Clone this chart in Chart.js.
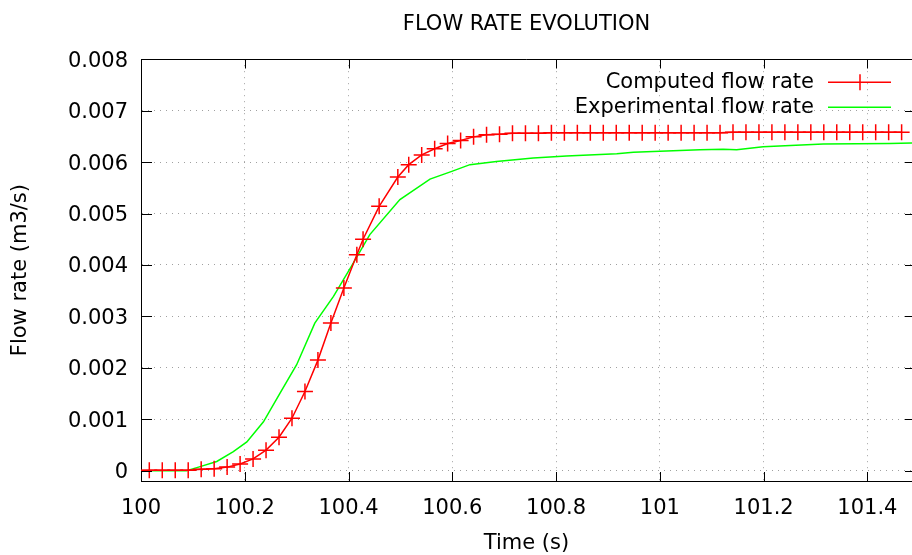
<!DOCTYPE html>
<html>
<head>
<meta charset="utf-8">
<title>Flow rate evolution</title>
<script src="https://cdn.jsdelivr.net/npm/chart.js@4.4.1/dist/chart.umd.min.js"></script>
<style>
  html, body { margin: 0; padding: 0; background: #fff; }
  #wrap { width: 912px; height: 555px; }
</style>
</head>
<body>
<div id="wrap"><canvas id="flow"></canvas></div>
<script>
// values
const computedTime = [
  99.991, 100.016, 100.041, 100.066, 100.091, 100.116, 100.141, 100.166, 100.191,
  100.216, 100.241, 100.266, 100.291, 100.316, 100.341, 100.366, 100.391, 100.416,
  100.428, 100.459, 100.495, 100.516, 100.541, 100.566, 100.591, 100.616, 100.641,
  100.666, 100.691, 100.716, 100.741, 100.766, 100.791, 100.816, 100.841, 100.866,
  100.891, 100.916, 100.941, 100.966, 100.991, 101.016, 101.041, 101.066, 101.091,
  101.116, 101.141, 101.166, 101.191, 101.216, 101.241, 101.266, 101.291, 101.316,
  101.341, 101.366, 101.391, 101.416, 101.441, 101.466
];
const computedFlow = [
  0, 0.00001, 0.00001, 0.00001, 0.00001, 0.00003, 0.00004, 0.00007, 0.00013,
  0.00023, 0.00040, 0.00065, 0.00102, 0.00154, 0.00215, 0.00287, 0.00355, 0.00420,
  0.00450, 0.00514, 0.00571, 0.00595, 0.00614, 0.00626, 0.00636, 0.00642, 0.00649,
  0.00653, 0.00654, 0.00656, 0.00656, 0.00656, 0.00657, 0.00657, 0.00657, 0.00657,
  0.00657, 0.00657, 0.00657, 0.00657, 0.00657, 0.00657, 0.00657, 0.00657, 0.00657,
  0.00657, 0.00658, 0.00658, 0.00658, 0.00658, 0.00658, 0.00658, 0.00658, 0.00658,
  0.00658, 0.00658, 0.00658, 0.00658, 0.00658, 0.00658
];
const experimentalTime = [
  100.000, 100.088, 100.114, 100.146, 100.178, 100.204, 100.236, 100.268, 100.300,
  100.335, 100.371, 100.406, 100.441, 100.499, 100.557, 100.599, 100.634, 100.685,
  100.756, 100.820, 100.917, 100.949, 101.077, 101.122, 101.148, 101.199, 101.315,
  101.443, 101.486
];
const experimentalFlow = [
  0, 0, 0.00008, 0.00018, 0.00037, 0.00056, 0.00095, 0.00151, 0.00206,
  0.00287, 0.00339, 0.00398, 0.00459, 0.00527, 0.00567, 0.00582, 0.00595, 0.00601,
  0.00608, 0.00612, 0.00616, 0.00619, 0.00624, 0.00625, 0.00624, 0.00630, 0.00635,
  0.00636, 0.00637
];
const xTicks = [100, 100.2, 100.4, 100.6, 100.8, 101, 101.2, 101.4];
const xTickLabels = ['100', '100.2', '100.4', '100.6', '100.8', '101', '101.2', '101.4'];
const yTicks = [0, 0.001, 0.002, 0.003, 0.004, 0.005, 0.006, 0.007, 0.008];
const yTickLabels = ['0', '0.001', '0.002', '0.003', '0.004', '0.005', '0.006', '0.007', '0.008'];

const toPoints = (xs, ys) => xs.map((x, i) => ({ x, y: ys[i] }));

Chart.defaults.font.family = 'DejaVu Sans';
Chart.defaults.font.size = 21;
Chart.defaults.color = '#000';

// gnuplot look: frame on top, inward ticks on all sides, key at top right
const framePlugin = {
  id: 'frame',
  afterDraw(chart) {
    const { ctx, chartArea: a, scales } = chart;
    ctx.save();
    ctx.strokeStyle = '#000';
    ctx.lineWidth = 1;
    ctx.beginPath();
    const top = Math.round(a.top) + 0.5;
    ctx.moveTo(a.left, top);
    ctx.lineTo(a.right, top);
    scales.x.ticks.forEach(t => {
      const px = Math.round(scales.x.getPixelForValue(t.value)) + 0.5;
      ctx.moveTo(px, a.bottom);
      ctx.lineTo(px, a.bottom - 9);
      ctx.moveTo(px, top);
      ctx.lineTo(px, top + 9);
    });
    scales.y.ticks.forEach(t => {
      const py = Math.round(scales.y.getPixelForValue(t.value)) + 0.5;
      ctx.moveTo(a.left, py);
      ctx.lineTo(a.left + 11, py);
      ctx.moveTo(a.right, py);
      ctx.lineTo(a.right - 7, py);
    });
    ctx.stroke();

    // key
    ctx.font = '21px "DejaVu Sans"';
    ctx.textAlign = 'right';
    ctx.textBaseline = 'middle';
    chart.data.datasets.forEach((ds, i) => {
      const y = a.top + 23 + i * 25;
      ctx.fillStyle = '#000';
      ctx.fillText(ds.label, a.right - 98, y);
      ctx.strokeStyle = ds.borderColor;
      ctx.lineWidth = ds.borderWidth;
      ctx.beginPath();
      ctx.moveTo(a.right - 84, y);
      ctx.lineTo(a.right - 21, y);
      if (ds.pointStyle === 'cross') {
        const cx = a.right - 52;
        ctx.moveTo(cx - 8, y);
        ctx.lineTo(cx + 8, y);
        ctx.moveTo(cx, y - 8);
        ctx.lineTo(cx, y + 8);
      }
      ctx.stroke();
    });
    ctx.restore();
  }
};

new Chart(document.getElementById('flow'), {
  type: 'line',
  data: {
    datasets: [
      {
        label: 'Computed flow rate',
        data: toPoints(computedTime, computedFlow),
        borderColor: '#ff0000',
        borderWidth: 1.5,
        pointStyle: 'cross',
        pointRadius: c => (c.dataIndex === 0 ? 0 : 8),
        pointBorderColor: '#ff0000',
        pointBorderWidth: 1.5,
        tension: 0,
        fill: false
      },
      {
        label: 'Experimental flow rate',
        data: toPoints(experimentalTime, experimentalFlow),
        borderColor: '#00ff00',
        borderWidth: 1.5,
        pointRadius: 0,
        tension: 0,
        fill: false
      }
    ]
  },
  options: {
    responsive: true,
    maintainAspectRatio: false,
    animation: false,
    events: [],
    layout: { padding: 0, autoPadding: false },
    plugins: {
      legend: { display: false },
      tooltip: { enabled: false },
      title: {
        display: true,
        text: 'FLOW RATE EVOLUTION',
        fullSize: false,
        font: { size: 21, weight: 'normal', lineHeight: 1.2 },
        color: '#000',
        padding: { top: 12, bottom: 22 }
      }
    },
    scales: {
      x: {
        type: 'linear',
        min: 100,
        max: 101.486,
        afterBuildTicks: s => { s.ticks = xTicks.map(v => ({ value: v })); },
        afterFit: s => { s.height = 74; s.paddingRight = 0; },
        ticks: {
          padding: 15,
          maxRotation: 0,
          autoSkip: false,
          callback: (v, i) => xTickLabels[i]
        },
        grid: { color: '#a0a0a0', lineWidth: 1, drawTicks: false },
        border: { display: true, color: '#000', width: 1, dash: [1, 5] },
        title: {
          display: true,
          text: 'Time (s)',
          font: { size: 21, lineHeight: 1.05 },
          padding: { top: 0, bottom: 0 }
        }
      },
      y: {
        min: -0.0002,
        max: 0.008,
        afterBuildTicks: s => { s.ticks = yTicks.map(v => ({ value: v })); },
        afterFit: s => { s.width = 141; },
        ticks: {
          padding: 13,
          labelOffset: 2,
          autoSkip: false,
          callback: (v, i) => yTickLabels[i]
        },
        grid: { color: '#a0a0a0', lineWidth: 1, drawTicks: false },
        border: { display: true, color: '#000', width: 1, dash: [1, 5] },
        title: {
          display: true,
          text: 'Flow rate (m3/s)',
          font: { size: 21, lineHeight: 1.2 },
          padding: { top: 8, bottom: 0 }
        }
      }
    }
  },
  plugins: [framePlugin]
});
</script>
</body>
</html>
